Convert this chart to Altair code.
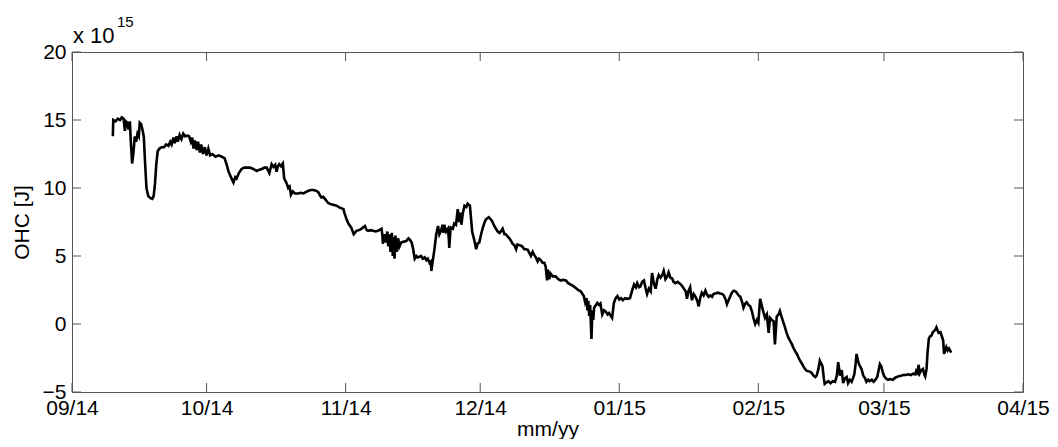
import altair as alt
import pandas as pd

# ---------------- data ----------------
START = "2014-09-01"          # day 0 of the series
X_TICKS = ["2014-09-01", "2014-10-01", "2014-11-01", "2014-12-01",
           "2015-01-01", "2015-02-01", "2015-03-01", "2015-04-01"]
Y_TICKS = [-5, 0, 5, 10, 15, 20]

# days since 2014-09-01
days = [
    9.1, 9.2, 9.7, 10.2, 10.7, 11.1, 11.5, 11.8, 12.0, 12.3, 12.6, 12.9, 13.1, 13.4, 13.7,
    14.0, 14.3, 14.6, 14.9, 15.1, 15.4, 15.7, 16.0, 16.3, 16.6, 17.0, 17.5, 17.9, 18.2,
    18.5, 18.8, 19.1, 19.5, 20.0, 20.5, 21.0, 21.5, 21.9, 22.2, 22.6, 22.9, 23.3, 23.6,
    24.0, 24.4, 24.8, 25.2, 25.7, 26.1, 26.5, 26.8, 27.1, 27.4, 27.8, 28.1, 28.5, 28.8,
    29.2, 29.6, 30.0, 30.4, 30.8, 31.3, 32.0, 32.7, 33.4, 34.0, 34.5, 34.9, 35.3, 35.7,
    36.0, 36.4, 36.7, 37.2, 37.8, 38.4, 39.0,
    39.7, 40.4, 41.2, 41.8, 42.3, 42.9, 43.4, 44.0, 44.5, 44.9, 45.3, 45.6, 45.9, 46.2,
    46.6, 47.0, 47.3, 47.6, 47.9, 48.2, 48.5, 48.8, 49.2, 49.7, 50.4, 51.0, 51.6, 52.1,
    52.7, 53.3, 53.8, 54.4, 54.9, 55.3, 55.6, 56.0, 56.4, 57.1, 57.8, 58.4, 59.0, 59.5,
    60.1, 60.5, 60.8, 61.2, 61.6, 62.0, 62.3, 62.8, 63.4, 64.0, 64.5, 65.3, 65.7, 66.0,
    66.6, 67.1, 67.7, 68.2, 69.0, 69.2, 69.3, 69.6, 70.0,
    70.3, 70.5, 70.8, 71.0, 71.3, 71.5, 71.7, 71.9, 72.1, 72.4, 72.7, 73.0, 73.4, 73.9,
    74.5, 75.0, 75.3, 75.7, 76.0, 76.4, 76.8, 77.1, 77.5, 77.8, 78.2, 78.6, 79.0, 79.3,
    79.7, 80.0, 80.1, 80.4, 80.8, 81.2, 81.6, 81.9, 82.3, 82.6, 82.8, 83.0, 83.4, 83.8,
    84.0, 84.1, 84.4, 84.9, 85.2, 85.6, 86.0, 86.3, 86.6, 86.8, 87.1, 87.5, 87.9, 88.2,
    88.7, 89.0, 89.2, 89.5, 89.8, 90.1, 90.4, 90.8, 91.2, 91.6, 92.0, 92.3, 92.9, 93.6,
    94.0, 94.5, 94.9, 95.3, 95.7, 96.0, 96.4, 96.7, 97.1, 97.5, 97.9, 98.2, 98.6, 99.0,
    99.3, 99.7, 100.1, 100.4, 100.8, 101.2,
    101.6, 102.0, 102.3, 102.7, 103.0, 103.4, 103.8, 104.1, 104.5, 104.9, 105.3, 105.6,
    105.9, 106.1, 106.4, 106.7, 107.2, 107.8, 108.4, 109.0, 109.5, 110.1, 110.6, 111.2,
    111.7, 112.3, 112.8, 113.4, 114.1, 114.4, 114.7, 114.9, 115.1, 115.3, 115.5, 115.8,
    116.0, 116.2, 116.4, 116.8, 117.1, 117.5, 117.8, 118.2, 118.6, 119.0, 119.4, 119.7,
    120.1, 120.4, 120.8, 121.2, 121.6, 122.0, 122.4, 122.8, 123.3, 123.8, 124.4, 124.9,
    125.3, 125.7, 126.0, 126.4, 126.7, 127.1, 127.5, 127.9, 128.2, 128.6, 129.0, 129.3,
    129.7, 130.1, 130.5, 130.8, 131.2, 131.6, 131.9, 132.3,
    132.7, 133.0, 133.4, 133.8, 134.1, 134.5, 135.0, 135.6, 136.0, 136.4, 136.8, 137.1,
    137.4, 137.8, 138.0, 138.2, 138.6, 139.0, 139.4, 139.7, 140.1, 140.4, 140.8, 141.2,
    141.5, 141.9, 142.3, 142.7, 143.0, 143.4, 144.0, 144.5, 145.0, 145.3, 145.7, 146.0,
    146.3, 146.7, 147.1, 147.5, 147.9, 148.2, 148.6, 149.0, 149.4, 149.7, 150.1, 150.4,
    150.8, 151.2, 151.6, 151.9, 152.3, 152.7, 153.0, 153.4, 153.8, 154.2, 154.5, 154.9,
    155.3, 155.6, 156.0, 156.4, 156.7, 157.1, 157.5, 157.8, 158.2, 158.6, 159.0, 159.3,
    159.7, 160.1, 160.5, 160.8, 161.2, 161.6, 162.0, 162.3, 162.7, 163.0, 163.4, 163.8,
    164.5, 164.9, 165.3, 165.7, 166.0, 166.4, 166.7, 167.0, 167.3, 167.6, 167.8, 168.2,
    168.6, 169.1, 169.6, 170.1, 170.5, 170.8, 171.2, 171.6, 171.9, 172.3, 172.7, 173.0,
    173.4, 173.8, 174.1, 174.4, 174.7, 174.9, 175.2, 175.5, 176.0, 176.4, 176.8, 177.1,
    177.5, 177.8, 178.3, 178.7, 179.1, 179.5, 180.1, 180.4, 180.7, 181.0, 181.4, 181.9,
    182.4, 183.0, 183.5, 184.2, 184.8, 185.3, 185.9, 186.4, 187.0, 187.5, 188.0, 188.2,
    188.5, 188.7, 189.0, 189.3, 189.7, 190.0, 190.2, 190.5, 190.7, 191.0, 191.3, 191.6,
    191.9, 192.2, 192.5, 192.7, 193.0, 193.2, 193.6, 193.9, 194.2, 194.4, 194.7, 194.9,
    195.2, 195.5, 196.0,
]

# OHC in units of 1e15 J
ohc = [
    13.8, 15.0, 14.9, 15.1, 15.0, 15.2, 15.1, 14.2, 14.9, 14.8, 14.3, 14.9, 13.5, 11.8, 12.6,
    13.8, 13.4, 14.0, 13.8, 14.8, 14.7, 14.3, 13.8, 11.8, 10.0, 9.4, 9.25, 9.2, 9.4,
    10.3, 11.8, 12.7, 12.9, 13.0, 13.0, 13.2, 13.1, 13.4, 13.2, 13.7, 13.3, 13.8, 13.4,
    13.9, 13.6, 14.0, 13.8, 13.85, 13.8, 13.4, 13.7, 12.9, 13.5, 12.8, 13.4, 12.6, 13.2,
    12.5, 13.0, 12.4, 12.9, 12.4, 12.5, 12.3, 12.4, 12.3, 12.2, 11.7, 11.2, 10.9, 10.6,
    10.4, 10.8, 10.7, 11.1, 11.4, 11.5, 11.5,
    11.5, 11.4, 11.25, 11.35, 11.4, 11.5, 11.5, 11.1, 11.75, 11.55, 11.7, 11.2, 11.6, 11.75,
    11.6, 11.8, 10.7, 10.5, 10.3, 10.0, 10.1, 9.5, 9.75, 9.6, 9.6, 9.65, 9.6, 9.7,
    9.8, 9.85, 9.85, 9.8, 9.7, 9.45, 9.3, 9.35, 9.2, 8.9, 8.8, 8.75, 8.7, 8.6,
    8.5, 8.45, 8.1, 7.7, 7.4, 7.2, 7.05, 6.6, 6.85, 6.9, 7.0, 7.2, 6.9, 6.85,
    6.9, 6.85, 6.8, 6.85, 7.0, 6.5, 5.9, 6.6, 6.0,
    6.8, 5.7, 6.6, 5.3, 6.7, 5.0, 6.4, 4.8, 6.5, 5.3, 6.3, 5.7, 6.0, 6.05,
    6.1, 6.3, 6.2, 6.0, 5.6, 4.8, 5.0, 4.9, 4.95, 5.0, 4.8, 4.9, 4.7, 4.8,
    4.5, 4.6, 3.9, 4.6, 5.5, 6.6, 7.2, 6.6, 6.9, 7.3, 6.7, 7.3, 6.8, 7.0,
    6.3, 5.6, 7.1, 7.0, 7.4, 7.3, 8.45, 7.5, 8.2, 7.3, 8.1, 8.7, 8.6, 8.85,
    8.7, 7.6, 6.8, 6.4, 6.0, 5.5, 5.9, 6.0, 6.6, 7.1, 7.5, 7.7, 7.85, 7.6,
    7.3, 7.0, 6.8, 6.7, 6.85, 7.0, 6.6, 6.6, 6.45, 6.3, 6.1, 5.9, 5.8, 5.5,
    5.85, 5.8, 5.75, 5.7, 5.5, 5.5,
    5.45, 5.2, 5.0, 5.3, 5.1, 4.9, 4.6, 4.8, 4.7, 4.5, 4.5, 4.2,
    3.2, 4.0, 3.3, 3.7, 3.5, 3.5, 3.3, 3.2, 3.25, 3.2, 3.0, 2.9,
    2.8, 2.65, 2.5, 2.4, 2.05, 1.6, 1.9, 1.0, 1.7, 0.6, 1.4, -1.1,
    1.0, 0.3, 1.2, 1.4, 1.55, 1.4, 1.5, 0.7, 1.0, 0.9, 0.7, 0.8,
    0.6, 0.45, 1.55, 1.9, 2.05, 1.8, 1.9, 1.75, 1.9, 1.85, 1.9, 2.5,
    2.9, 2.7, 3.0, 2.7, 2.75, 3.1, 3.2, 2.6, 2.2, 2.6, 2.4, 3.75,
    3.0, 2.6, 3.3, 3.6, 3.4, 3.6, 3.9, 3.3,
    3.5, 3.8, 3.4, 3.35, 3.1, 3.0, 3.1, 2.95, 2.8, 2.6, 2.4, 1.85,
    2.4, 2.7, 2.2, 1.75, 2.2, 2.0, 1.7, 1.3, 2.0, 2.3, 2.1, 2.45,
    2.2, 2.0, 2.1, 2.0, 2.2, 2.25, 2.3, 2.25, 2.2, 2.1, 1.8, 1.45,
    1.7, 2.0, 2.3, 2.45, 2.4, 2.3, 2.1, 2.0, 1.6, 1.2, 1.5, 1.6,
    1.4, 1.3, 0.9, 0.45, 0.0, 0.3, 0.1, 1.85, 1.3, 0.8, 0.45, 0.7,
    -0.65, 0.45, 0.3, 0.2, -1.5, 0.55, 0.7, 0.95, 0.5, 0.1, -0.3, -0.65,
    -1.0, -1.25, -1.5, -1.75, -2.0, -2.2, -2.5, -2.7, -2.9, -3.1, -3.3, -3.45,
    -3.5, -3.6, -3.8, -3.9, -3.8, -3.3, -2.7, -2.9, -3.1, -4.0, -4.4, -4.3,
    -4.2, -4.35, -4.2, -4.25, -3.8, -2.8, -3.8, -3.4, -4.35, -4.0, -3.9, -4.35,
    -4.1, -4.25, -4.0, -3.7, -2.9, -2.2, -2.7, -3.0, -3.3, -3.8, -4.0, -4.25,
    -4.1, -4.2, -4.1, -4.25, -4.1, -3.9, -2.95, -3.1, -3.5, -3.8, -4.0, -4.1,
    -4.05, -4.1, -3.95, -3.85, -3.8, -3.75, -3.75, -3.7, -3.75, -3.65, -3.7, -3.45,
    -3.6, -3.0, -3.6, -3.4, -3.3, -3.7, -3.85, -3.3, -2.2, -1.1, -0.9, -0.85,
    -0.6, -0.5, -0.4, -0.25, -0.5, -0.65, -0.6, -0.9, -1.2, -2.2, -1.9, -1.7,
    -1.95, -1.8, -2.1,
]

# ---------------- layout ----------------
PLOT_W, PLOT_H = 951, 340
PAD_L, PAD_T, PAD_R, PAD_B = 64, 44, 27, 47
TICK_PX = 9
FONT = "Liberation Sans"
FRAME = "#555555"

base = pd.Timestamp(START)
df = pd.DataFrame({
    "date": base + pd.to_timedelta(days, unit="D"),
    "ohc": ohc,
})

x_dates = pd.to_datetime(X_TICKS)
x_min, x_max = x_dates[0], x_dates[-1]
y_min, y_max = Y_TICKS[0], Y_TICKS[-1]
span_days = (x_max - x_min) / pd.Timedelta(days=1)
dx = pd.Timedelta(days=TICK_PX / PLOT_W * span_days)
dy = TICK_PX / PLOT_H * (y_max - y_min)


def dt(ts):
    return alt.DateTime(year=ts.year, month=ts.month, date=ts.day)


x_scale = alt.Scale(domain=[dt(x_min), dt(x_max)], nice=False)
y_scale = alt.Scale(domain=[y_min, y_max], nice=False)

x_axis = alt.Axis(values=[dt(t) for t in x_dates], format="%m/%y", title="mm/yy",
                  ticks=False, domain=False, grid=False, labelFlush=False,
                  labelOverlap=False, labelPadding=5, titlePadding=0)
y_axis = alt.Axis(values=Y_TICKS, title="OHC [J]", ticks=False, domain=False, grid=False,
                  labelFlush=False, labelOverlap=False, labelPadding=6, titlePadding=10)

X = alt.X("date:T", scale=x_scale, axis=x_axis)
Y = alt.Y("ohc:Q", scale=y_scale, axis=y_axis)

line = alt.Chart(df).mark_line(color="black", strokeWidth=2.6).encode(x=X, y=Y)

# inward ticks on all four sides
xt = pd.DataFrame({
    "date": list(x_dates) * 2,
    "ohc": [y_min] * len(x_dates) + [y_max] * len(x_dates),
    "ohc2": [y_min + dy] * len(x_dates) + [y_max - dy] * len(x_dates),
})
yt = pd.DataFrame({
    "date": [x_min] * len(Y_TICKS) + [x_max] * len(Y_TICKS),
    "date2": [x_min + dx] * len(Y_TICKS) + [x_max - dx] * len(Y_TICKS),
    "ohc": Y_TICKS * 2,
})
xticks = alt.Chart(xt).mark_rule(color=FRAME, strokeWidth=1).encode(x=X, y=Y, y2="ohc2:Q")
yticks = alt.Chart(yt).mark_rule(color=FRAME, strokeWidth=1).encode(x=X, x2="date2:T", y=Y)

# exponent annotation "x 10^15"
mult = alt.Chart(pd.DataFrame({"t": ["x 10"]})).mark_text(
    font=FONT, fontSize=22, align="left", baseline="alphabetic", color="black"
).encode(text="t:N", x=alt.value(1), y=alt.value(-9))
expo = alt.Chart(pd.DataFrame({"t": ["15"]})).mark_text(
    font=FONT, fontSize=15, align="left", baseline="alphabetic", color="black"
).encode(text="t:N", x=alt.value(45), y=alt.value(-25))

chart = alt.layer(line, xticks, yticks, mult, expo).properties(
    width=PLOT_W, height=PLOT_H,
    autosize=alt.AutoSizeParams(type="none"),
    padding={"left": PAD_L, "top": PAD_T, "right": PAD_R, "bottom": PAD_B},
    background="white",
).configure_view(
    stroke=FRAME, strokeWidth=1
).configure_axis(
    labelFont=FONT, titleFont=FONT, labelFontSize=21, titleFontSize=21,
    labelColor="black", titleColor="black", titleFontWeight="normal",
)

chart.save("out.html", embed_options={"renderer": "svg", "actions": False})
